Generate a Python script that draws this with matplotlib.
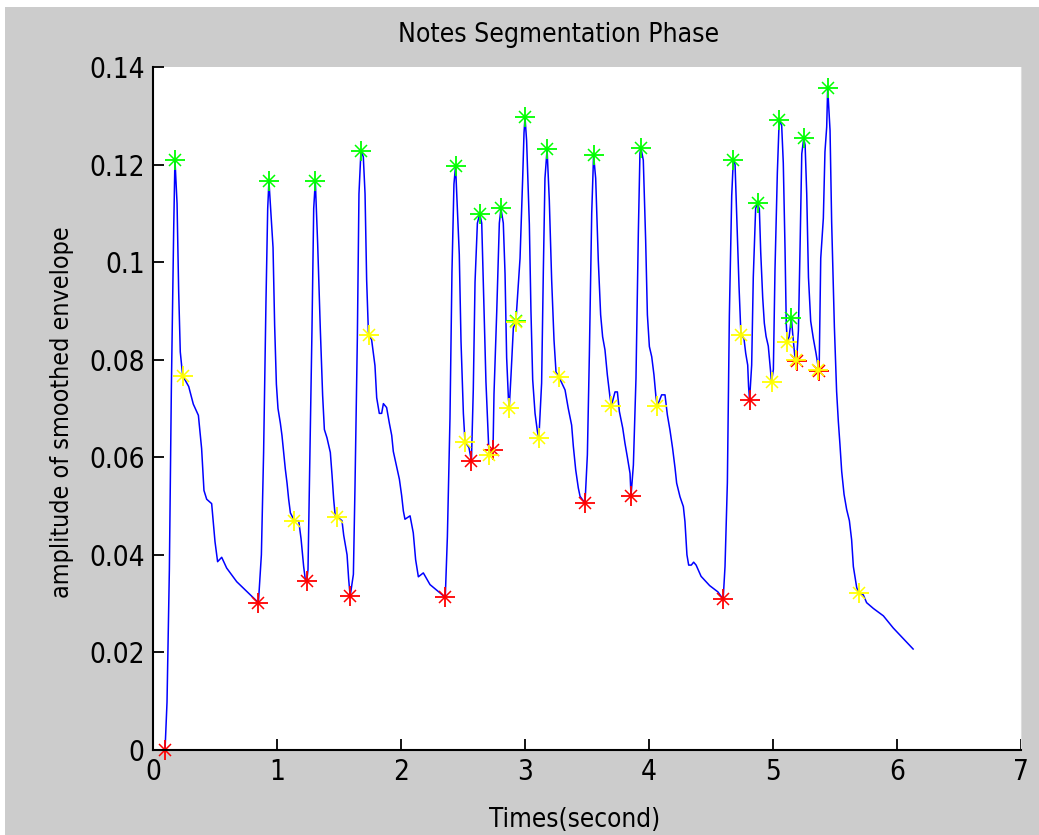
import matplotlib
matplotlib.use("Agg")
import matplotlib.pyplot as plt
from matplotlib.patches import Rectangle

# smoothed envelope
t = [0.000, 0.097, 0.113, 0.132, 0.148, 0.167, 0.177,
     0.194, 0.207, 0.220, 0.234, 0.240, 0.288, 0.325, 0.366, 0.392, 0.411, 0.433,
     0.473, 0.487, 0.500, 0.521, 0.554, 0.594, 0.675, 0.850,
     0.874, 0.892, 0.911, 0.925, 0.935,
     0.968, 0.981, 0.995, 1.008, 1.027, 1.040, 1.054, 1.067, 1.081, 1.094, 1.108,
     1.140, 1.175, 1.194, 1.215, 1.228, 1.240,
     1.250, 1.263, 1.282, 1.296, 1.309,
     1.328, 1.349, 1.368, 1.382, 1.403, 1.430, 1.444, 1.457, 1.470, 1.484,
     1.524, 1.538, 1.565, 1.578, 1.590,
     1.616, 1.629, 1.648, 1.661, 1.677,
     1.696, 1.710, 1.723, 1.737, 1.745, 1.763, 1.790, 1.804, 1.825, 1.844, 1.858,
     1.884, 1.906, 1.925, 1.938, 1.965, 1.987, 2.005, 2.019, 2.032, 2.073, 2.099,
     2.118, 2.140, 2.180, 2.234, 2.315, 2.357,
     2.374, 2.395, 2.411, 2.427, 2.440,
     2.470, 2.484, 2.503, 2.516, 2.548, 2.568,
     2.583, 2.597, 2.616, 2.635,
     2.651, 2.669, 2.685, 2.704, 2.710, 2.742,
     2.750, 2.772, 2.793, 2.806,
     2.825, 2.839, 2.852, 2.866, 2.873,
     2.887, 2.906, 2.927, 2.960, 2.981, 2.992, 3.000,
     3.013, 3.035, 3.048, 3.062, 3.081, 3.100, 3.112,
     3.134, 3.148, 3.161, 3.178,
     3.196, 3.215, 3.234, 3.250, 3.275, 3.323, 3.349, 3.376, 3.390, 3.409, 3.430,
     3.444, 3.484,
     3.503, 3.519, 3.538, 3.553,
     3.570, 3.591, 3.610, 3.626, 3.645, 3.664, 3.685, 3.697, 3.726, 3.745, 3.761,
     3.788, 3.806, 3.825, 3.847, 3.855,
     3.874, 3.895, 3.914, 3.927, 3.935,
     3.954, 3.973, 3.987, 4.003, 4.022, 4.040, 4.056, 4.067, 4.102, 4.129, 4.148,
     4.169, 4.190, 4.210, 4.223, 4.250, 4.277, 4.290, 4.306, 4.320, 4.341, 4.360,
     4.380, 4.420, 4.489, 4.556, 4.598,
     4.613, 4.632, 4.648, 4.667, 4.680,
     4.694, 4.708, 4.726, 4.740, 4.745, 4.766, 4.780, 4.796, 4.803, 4.811,
     4.828, 4.841, 4.860, 4.875,
     4.890, 4.901, 4.917, 4.930, 4.944, 4.962, 4.976, 4.988,
     5.003, 5.016, 5.035, 5.050,
     5.070, 5.083, 5.097, 5.107, 5.115, 5.130, 5.148, 5.160, 5.175, 5.190,
     5.205, 5.218, 5.232, 5.248,
     5.259, 5.272, 5.286, 5.304, 5.325, 5.347, 5.362, 5.372,
     5.385, 5.406, 5.419, 5.433, 5.441,
     5.460, 5.473, 5.495, 5.513, 5.527, 5.540, 5.554, 5.573, 5.594, 5.616, 5.634,
     5.648, 5.675, 5.692, 5.728, 5.755, 5.810, 5.890, 5.970, 6.130]
env = [0.0000, 0.0000, 0.0098, 0.0370, 0.0740, 0.1070, 0.1210,
       0.1120, 0.0940, 0.0816, 0.0780, 0.0767, 0.0745, 0.0709, 0.0686, 0.0618, 0.0532, 0.0514,
       0.0505, 0.0464, 0.0427, 0.0386, 0.0395, 0.0373, 0.0345, 0.0302,
       0.0400, 0.0610, 0.0918, 0.1110, 0.1166,
       0.1030, 0.0870, 0.0750, 0.0700, 0.0670, 0.0645, 0.0610, 0.0576, 0.0547, 0.0514, 0.0486,
       0.0470, 0.0470, 0.0433, 0.0376, 0.0350, 0.0346,
       0.0370, 0.0570, 0.0860, 0.1110, 0.1166,
       0.1037, 0.0865, 0.0727, 0.0657, 0.0640, 0.0610, 0.0563, 0.0514, 0.0478, 0.0478,
       0.0470, 0.0440, 0.0400, 0.0350, 0.0315,
       0.0360, 0.0540, 0.0845, 0.1140, 0.1228,
       0.1216, 0.1140, 0.0963, 0.0857, 0.0850, 0.0841, 0.0788, 0.0722, 0.0690, 0.0690, 0.0710,
       0.0702, 0.0670, 0.0645, 0.0612, 0.0580, 0.0555, 0.0522, 0.0490, 0.0473, 0.0480, 0.0445,
       0.0390, 0.0355, 0.0363, 0.0339, 0.0322, 0.0313,
       0.0437, 0.0680, 0.0980, 0.1160, 0.1197,
       0.1016, 0.0837, 0.0690, 0.0632, 0.0620, 0.0592,
       0.0739, 0.0959, 0.1080, 0.1099,
       0.1080, 0.0906, 0.0755, 0.0637, 0.0604, 0.0614,
       0.0730, 0.0898, 0.1080, 0.1110,
       0.1080, 0.0976, 0.0804, 0.0722, 0.0702,
       0.0767, 0.0865, 0.0880, 0.1008, 0.1170, 0.1265, 0.1297,
       0.1249, 0.1078, 0.0900, 0.0759, 0.0690, 0.0653, 0.0640,
       0.0752, 0.0984, 0.1172, 0.1231,
       0.1127, 0.0963, 0.0840, 0.0775, 0.0764, 0.0738, 0.0700, 0.0666, 0.0622, 0.0574, 0.0537,
       0.0520, 0.0506,
       0.0605, 0.0810, 0.1100, 0.1219,
       0.1172, 0.1004, 0.0892, 0.0847, 0.0820, 0.0769, 0.0724, 0.0706, 0.0734, 0.0734, 0.0694,
       0.0660, 0.0629, 0.0601, 0.0567, 0.0521,
       0.0584, 0.0762, 0.1060, 0.1223, 0.1234,
       0.1209, 0.1045, 0.0892, 0.0827, 0.0806, 0.0769, 0.0724, 0.0705, 0.0728, 0.0728, 0.0687,
       0.0656, 0.0619, 0.0578, 0.0547, 0.0519, 0.0499, 0.0468, 0.0400, 0.0379, 0.0379, 0.0385,
       0.0379, 0.0356, 0.0337, 0.0324, 0.0309,
       0.0376, 0.0548, 0.0890, 0.1136, 0.1210,
       0.1200, 0.1093, 0.0950, 0.0860, 0.0851, 0.0843, 0.0813, 0.0789, 0.0745, 0.0718,
       0.0789, 0.0969, 0.1110, 0.1121,
       0.1109, 0.1020, 0.0927, 0.0875, 0.0848, 0.0828, 0.0790, 0.0755,
       0.0780, 0.0984, 0.1183, 0.1292,
       0.1280, 0.1203, 0.1027, 0.0874, 0.0837, 0.0847, 0.0886, 0.0850, 0.0810, 0.0797,
       0.0860, 0.1027, 0.1222, 0.1254,
       0.1240, 0.1140, 0.0969, 0.0879, 0.0844, 0.0813, 0.0789, 0.0776,
       0.1008, 0.1090, 0.1226, 0.1277, 0.1357,
       0.1270, 0.1082, 0.0867, 0.0735, 0.0673, 0.0626, 0.0571, 0.0524, 0.0493, 0.0470, 0.0431,
       0.0376, 0.0333, 0.0322, 0.0318, 0.0302, 0.0290, 0.0275, 0.0250, 0.0207]

# note peaks (green)
peak_t = [0.177, 0.935, 1.309, 1.677, 2.440, 2.635, 2.806, 2.927, 3.000,
          3.178, 3.553, 3.935, 4.680, 4.875, 5.050, 5.148, 5.248, 5.441]
peak_y = [0.1210, 0.1166, 0.1166, 0.1228, 0.1197, 0.1099, 0.1110, 0.0880, 0.1297,
          0.1231, 0.1219, 0.1234, 0.1210, 0.1121, 0.1292, 0.0886, 0.1254, 0.1357]

# onsets (red)
onset_t = [0.097, 0.850, 1.240, 1.590, 2.357, 2.568, 2.742, 3.484, 3.855,
           4.598, 4.811, 5.190, 5.372]
onset_y = [0.0000, 0.0302, 0.0346, 0.0315, 0.0313, 0.0592, 0.0614, 0.0506, 0.0521,
           0.0309, 0.0718, 0.0797, 0.0776]

# offsets (yellow)
off_t = [0.240, 1.140, 1.484, 1.745, 2.516, 2.710, 2.873, 2.927, 3.112, 3.275,
         3.697, 4.067, 4.745, 4.988, 5.112, 5.188, 5.360, 5.692]
off_y = [0.0767, 0.0470, 0.0478, 0.0850, 0.0632, 0.0604, 0.0702, 0.0878, 0.0640, 0.0764,
         0.0706, 0.0705, 0.0851, 0.0755, 0.0836, 0.0800, 0.0778, 0.0322]

plt.rcParams['font.family'] = ['DejaVu Sans']
plt.rcParams['font.stretch'] = 'condensed'

fig = plt.figure(figsize=(10.39, 8.35), dpi=100, facecolor='white')
# matlab grey window
fig.patches.append(Rectangle((5 / 1039, 0), 1, (835 - 7) / 835, transform=fig.transFigure,
                             facecolor='#cccccc', edgecolor='none', zorder=-10))

ax = fig.add_axes([153 / 1039, 85 / 835, 868 / 1039, 683 / 835])
ax.plot(t, env, color='#0000ff', lw=1.1)


def star(x, y, c):
    ax.plot(x, y, ls='none', marker='+', ms=14, mew=1.3, color=c, clip_on=False)
    ax.plot(x, y, ls='none', marker='x', ms=8, mew=1.1, color=c, clip_on=False)


star(peak_t, peak_y, '#00ff00')
star(onset_t, onset_y, '#ff0000')
star(off_t, off_y, '#ffff00')

ax.set_xlim(0, 7)
ax.set_ylim(0, 0.14)
ax.set_xticks(range(8))
ax.set_yticks([0, 0.02, 0.04, 0.06, 0.08, 0.1, 0.12, 0.14])
ax.set_yticklabels(['0', '0.02', '0.04', '0.06', '0.08', '0.1', '0.12', '0.14'])
ax.tick_params(direction='in', length=8, width=1.3, labelsize=20, pad=6)
ax.spines['top'].set_visible(False)
ax.spines['right'].set_color('#dddddd')
ax.spines['left'].set_linewidth(1.5)
ax.spines['bottom'].set_linewidth(1.5)

fig.text(559 / 1039, 1 - 35 / 835, 'Notes Segmentation Phase', ha='center', va='center', fontsize=19)
fig.text(575 / 1039, 1 - 820 / 835, 'Times(second)', ha='center', va='center', fontsize=18.7)
fig.text(62 / 1039, 1 - 412 / 835, 'amplitude of smoothed envelope', ha='center', va='center',
         rotation=90, fontsize=18)

plt.savefig('out.png', dpi=100, facecolor=fig.get_facecolor())
